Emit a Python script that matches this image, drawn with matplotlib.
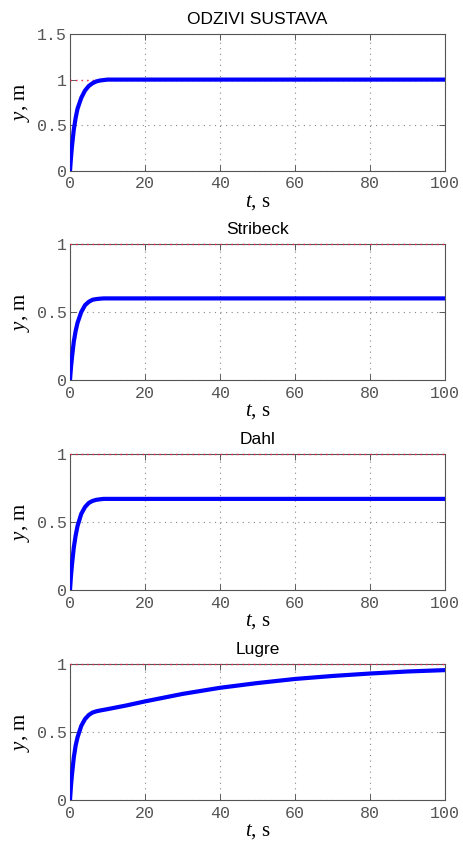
import matplotlib.pyplot as plt

plt.rcParams['mathtext.fontset'] = 'custom'
plt.rcParams['mathtext.it'] = 'Liberation Serif:italic'
plt.rcParams['mathtext.rm'] = 'Liberation Serif'

# step responses
t = [0, 0.25, 0.5, 1, 1.5, 2, 3, 4, 5, 6, 7, 8, 9, 10, 12, 100]
y_ideal = [0, 0.14, 0.26, 0.45, 0.58, 0.68, 0.80, 0.88, 0.93, 0.96, 0.98, 0.99, 0.995, 1.0, 1.0, 1.0]
y_stribeck = [0, 0.09, 0.16, 0.28, 0.36, 0.42, 0.50, 0.55, 0.575, 0.59, 0.595, 0.598, 0.6, 0.6, 0.6, 0.6]
y_dahl = [0, 0.10, 0.18, 0.31, 0.40, 0.47, 0.56, 0.61, 0.64, 0.655, 0.663, 0.667, 0.67, 0.67, 0.67, 0.67]

t_lugre = [0, 0.25, 0.5, 1, 1.5, 2, 3, 4, 5, 6, 7, 8, 10, 15, 20, 30, 40, 50, 60, 70, 80, 90, 100]
y_lugre = [0, 0.10, 0.18, 0.31, 0.40, 0.46, 0.545, 0.595, 0.625, 0.643, 0.652, 0.658, 0.668, 0.695, 0.725, 0.78,
           0.825, 0.86, 0.89, 0.912, 0.93, 0.945, 0.955]

ref = 1.0
titles = ['ODZIVI SUSTAVA', 'Stribeck', 'Dahl', 'Lugre']
series = [(t, y_ideal), (t, y_stribeck), (t, y_dahl), (t_lugre, y_lugre)]
ylims = [1.5, 1, 1, 1]
yticks = [[0, 0.5, 1, 1.5], [0, 0.5, 1], [0, 0.5, 1], [0, 0.5, 1]]
yticklabels = [['0', '0.5', '1', '1.5'], ['0', '0.5', '1'], ['0', '0.5', '1'], ['0', '0.5', '1']]

fig = plt.figure(figsize=(4.63, 8.42), dpi=100)
bottoms = [0.797, 0.5487, 0.2993, 0.0499]
heights = [0.1627, 0.1615, 0.1615, 0.1615]

for i in range(4):
    ax = fig.add_axes([0.1512, bottoms[i], 0.810, heights[i]])
    ax.plot([0, 100], [ref, ref], color='#ff2050', linestyle=(0, (1, 3)), linewidth=1.0,
            clip_on=False, zorder=3)
    ax.plot(series[i][0], series[i][1], color='#0000ff', linewidth=3.0, zorder=4)
    ax.set_xlim(0, 100)
    ax.set_ylim(0, ylims[i])
    ax.set_xticks([0, 20, 40, 60, 80, 100])
    ax.set_yticks(yticks[i])
    ax.set_yticklabels(yticklabels[i])
    ax.grid(True, color='#888888', linestyle=(0, (1, 4)), linewidth=0.8)
    ax.tick_params(direction='in', top=True, right=True, length=4, width=0.6,
                   colors='#444444', labelcolor='#555555', labelsize=12, pad=2)
    ax.tick_params(axis='x', pad=4)
    for lab in ax.get_xticklabels() + ax.get_yticklabels():
        lab.set_fontfamily('Liberation Mono')
    for sp in ax.spines.values():
        sp.set_color('#555555')
        sp.set_linewidth(0.8)
    ax.set_title(titles[i], fontsize=12.5, fontfamily='Liberation Sans', pad=7)
    ax.set_xlabel('$t$, s', fontsize=15, fontfamily='Liberation Serif', labelpad=1)
    ax.set_ylabel('$y$, m', fontsize=15, fontfamily='Liberation Serif', labelpad=4)

fig.savefig('out.png', dpi=100)
